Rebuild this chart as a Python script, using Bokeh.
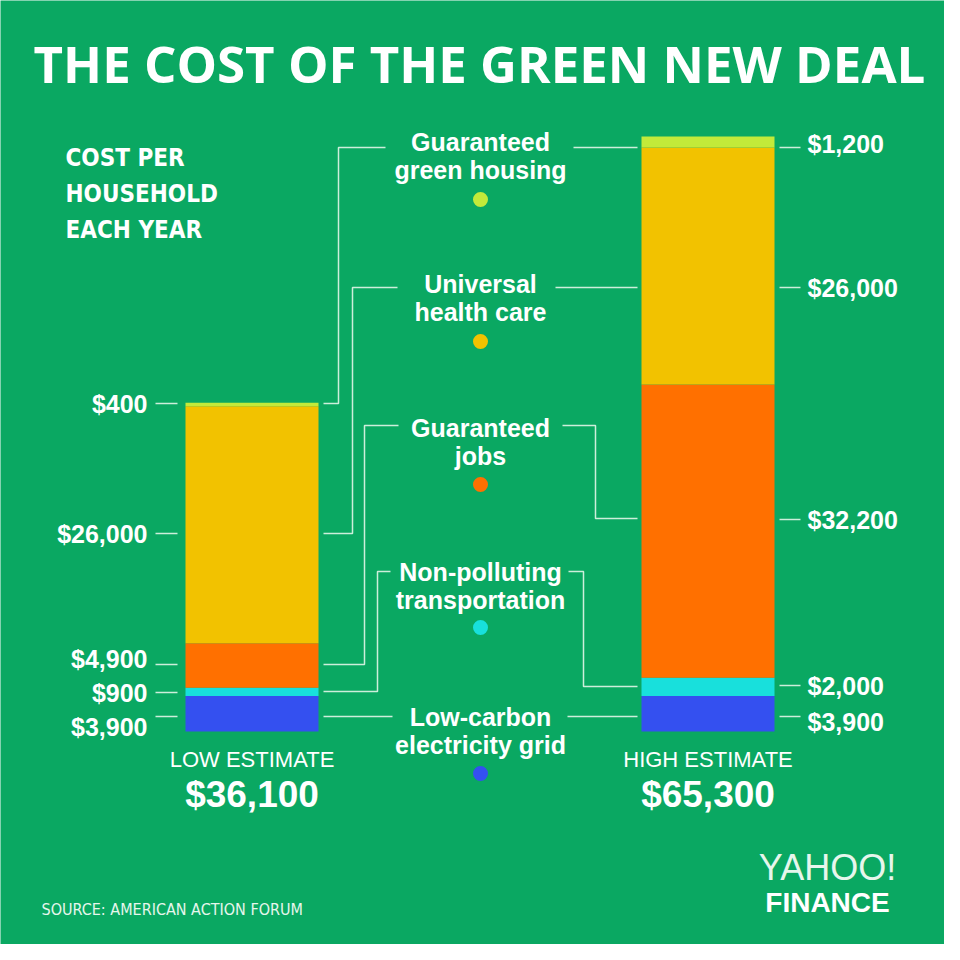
from bokeh.plotting import figure
from bokeh.models import Range1d, ColumnDataSource
from bokeh.core.properties import value
from bokeh.embed import file_html
from bokeh.resources import INLINE

# ---------------- data ----------------
categories = ["electricity", "transportation", "jobs", "health", "housing"]
category_names = [
    ["Low-carbon", "electricity grid"],
    ["Non-polluting", "transportation"],
    ["Guaranteed", "jobs"],
    ["Universal", "health care"],
    ["Guaranteed", "green housing"],
]
estimates = ["LOW ESTIMATE", "HIGH ESTIMATE"]
low_values = [3900, 900, 4900, 26000, 400]
high_values = [3900, 2000, 32200, 26000, 1200]
colors = ["#3450f0", "#18e0dc", "#ff7000", "#f2c200", "#c2ea3a"]

BG = "#0aa862"
LINE = "#cdeedb"
FONT = "Liberation Sans"
NARROW = "'Liberation Sans Narrow', 'DejaVu Sans Condensed', 'Roboto', sans-serif"

def money(v):
    return "${:,}".format(v)

# ---------------- figure ----------------
# layout frame in page pixels (y down); bars on a dollar scale
PX_PER_USD = 0.00911
BASE = 731
W = 944
p = figure(width=W, height=W, x_range=Range1d(0, W), y_range=Range1d(W, 0),
           output_backend="svg", toolbar_location=None, min_border=0,
           x_axis_type=None, y_axis_type=None,
           background_fill_color=BG, border_fill_color=BG, outline_line_color=None)
p.grid.visible = False
p.extra_y_ranges = {"usd": Range1d(start=-(W - BASE) / PX_PER_USD, end=BASE / PX_PER_USD)}

src = ColumnDataSource(dict(x=[251.5, 707.5], **{c: [lo, hi] for c, lo, hi in zip(categories, low_values, high_values)}))
p.vbar_stack(categories, x="x", width=133, color=colors, line_color=None, source=src, y_range_name="usd")

# ---------------- connectors ----------------
left_conn = [
    ([323, 392], [716, 716]),
    ([323, 377, 377, 390], [691, 691, 571, 571]),
    ([323, 364, 364, 398], [664, 664, 425, 425]),
    ([323, 352, 352, 397], [533, 533, 287, 287]),
    ([323, 338, 338, 385], [403, 403, 147, 147]),
]
right_conn = [
    ([567, 637], [716, 716]),
    ([568, 583, 583, 637], [571, 571, 686, 686]),
    ([562, 595, 595, 637], [425, 425, 518, 518]),
    ([555, 637], [287, 287]),
    ([573, 637], [147, 147]),
]
xs = [c[0] for c in left_conn + right_conn]
ys = [c[1] for c in left_conn + right_conn]
p.multi_line(xs, ys, line_color=LINE, line_width=1.5)

# value ticks
left_tick_y = [716, 692, 664, 533, 403]
right_tick_y = [716, 685, 519, 287, 147]
p.segment(x0=[155] * 5, y0=left_tick_y, x1=[177] * 5, y1=left_tick_y, line_color=LINE, line_width=1.5)
p.segment(x0=[779] * 5, y0=right_tick_y, x1=[800] * 5, y1=right_tick_y, line_color=LINE, line_width=1.5)

# value labels
left_label_y = [726, 692, 658, 533, 403]
right_label_y = [721, 685, 519, 287, 143]
p.text(x=[147] * 5, y=left_label_y, text=[money(v) for v in low_values], text_align="right",
       text_baseline="middle", text_color="white", text_font=value(FONT), text_font_style="bold",
       text_font_size="25px")
p.text(x=[807] * 5, y=right_label_y, text=[money(v) for v in high_values], text_align="left",
       text_baseline="middle", text_color="white", text_font=value(FONT), text_font_style="bold",
       text_font_size="25px")

# category labels with dots
first_y = [716, 571, 427, 283, 141]
dot_y = [773, 627, 484, 341, 199]
p.text(x=[480] * 5, y=first_y, text=[n[0] for n in category_names], text_align="center",
       text_baseline="middle", text_color="white", text_font=value(FONT), text_font_style="bold",
       text_font_size="25px")
p.text(x=[480] * 5, y=[y + 28 for y in first_y], text=[n[1] for n in category_names], text_align="center",
       text_baseline="middle", text_color="white", text_font=value(FONT), text_font_style="bold",
       text_font_size="25px")
p.scatter(x=[480] * 5, y=dot_y, size=15, color=colors, line_color=None)

# estimate labels
p.text(x=[251.5, 707.5], y=[759, 759], text=estimates, text_align="center", text_baseline="middle",
       text_color="white", text_font=value(FONT), text_font_size="22px")
p.text(x=[251.5, 707.5], y=[794, 794], text=[money(sum(low_values)), money(sum(high_values))],
       text_align="center", text_baseline="middle", text_color="white", text_font=value(FONT),
       text_font_style="bold", text_font_size="37px")

# title and notes
p.text(x=[479], y=[62], text=["THE COST OF THE GREEN NEW DEAL"], text_align="center", text_baseline="middle",
       text_color="white", text_font=value("Open Sans"), text_font_style="bold", text_font_size="51px")
p.text(x=[65] * 3, y=[157, 193, 229], text=["COST PER", "HOUSEHOLD", "EACH YEAR"], text_align="left",
       text_baseline="middle", text_color="white", text_font=value(NARROW), text_font_style="bold",
       text_font_size="24px")
p.text(x=[41], y=[909], text=["SOURCE:  AMERICAN ACTION FORUM"], text_align="left", text_baseline="middle",
       text_color="#e6f6ec", text_font=value(NARROW), text_font_size="16px")
p.text(x=[827], y=[867], text=["YAHOO!"], text_align="center", text_baseline="middle",
       text_color="#e6f6ec", text_font=value(FONT), text_font_size="36px")
p.text(x=[827], y=[902], text=["FINANCE"], text_align="center", text_baseline="middle",
       text_color="white", text_font=value(FONT), text_font_style="bold", text_font_size="28px")

open("out.html", "w").write(file_html(p, INLINE))
